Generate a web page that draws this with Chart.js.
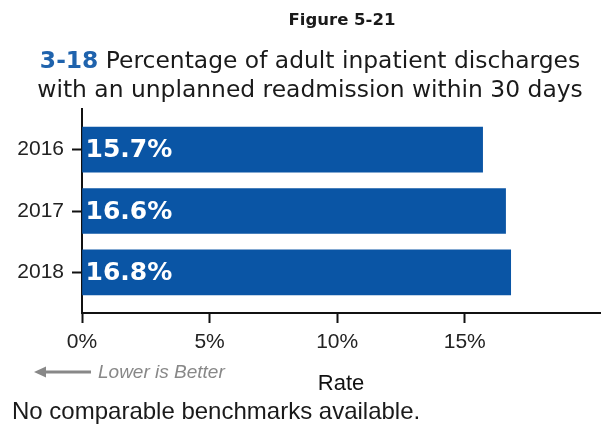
<!DOCTYPE html>
<html>
<head>
<meta charset="utf-8">
<script src="https://cdn.jsdelivr.net/npm/chart.js@4"></script>
<style>
  body { margin: 0; background: #fff; }
  #wrap { position: relative; width: 602px; height: 429px; overflow: hidden; }
  #wrap canvas { position: absolute; left: 0; top: 0; }
  .txt { position: absolute; white-space: nowrap; color: #1a1a1a; }
  #fig { left: 0; width: 684px; top: 10px; text-align: center; font: bold 16.5px "DejaVu Sans", sans-serif; }
  .ttl { left: 0; width: 620px; text-align: center; font: 23.4px "DejaVu Sans", sans-serif; }
  #t1 { top: 46px; }
  #t2 { top: 75px; }
  #t1 b { color: #1f63ad; }
  #lower { left: 98px; top: 361px; font: italic 19px "Liberation Sans", Arial, sans-serif; color: #888; }
  #note { left: 12px; top: 397px; font: 24px "Liberation Sans", Arial, sans-serif; }
  #arrow { position: absolute; left: 34px; top: 365px; }
</style>
</head>
<body>
<div id="wrap">
  <canvas id="myChart" width="602" height="429"></canvas>
  <div class="txt" id="fig">Figure 5-21</div>
  <div class="txt ttl" id="t1"><b>3-18</b> Percentage of adult inpatient discharges</div>
  <div class="txt ttl" id="t2">with an unplanned readmission within 30 days</div>
  <svg id="arrow" width="60" height="14">
    <line x1="8" y1="7" x2="57" y2="7" stroke="#888" stroke-width="3"/>
    <polygon points="0,7 12,1.5 12,12.5" fill="#888"/>
  </svg>
  <div class="txt" id="lower">Lower is Better</div>
  <div class="txt" id="note">No comparable benchmarks available.</div>
</div>
<script>
const years = [2016, 2017, 2018];
const rates = [15.7, 16.6, 16.8];
const xTicks = [0, 5, 10, 15];

const barLabels = {
  id: 'barLabels',
  afterDatasetsDraw(chart) {
    const ctx = chart.ctx;
    ctx.save();
    ctx.fillStyle = '#fff';
    ctx.font = 'bold 25px "DejaVu Sans", sans-serif';
    ctx.textBaseline = 'middle';
    chart.getDatasetMeta(0).data.forEach((el, i) => {
      ctx.fillText(rates[i].toFixed(1) + '%', el.base + 3, el.y + 1);
    });
    ctx.restore();
  }
};

new Chart(document.getElementById('myChart'), {
  type: 'bar',
  data: {
    labels: years,
    datasets: [{
      label: 'Rate',
      data: rates,
      backgroundColor: '#0a55a5',
      barThickness: 45
    }]
  },
  options: {
    indexAxis: 'y',
    responsive: false,
    animation: false,
    layout: { padding: { top: 109, right: 2, left: 0, bottom: 0 } },
    plugins: { legend: { display: false }, tooltip: { enabled: false } },
    scales: {
      x: {
        min: 0,
        max: 20.3,
        afterBuildTicks: (axis) => { axis.ticks = xTicks.map(v => ({ value: v })); },
        afterFit: (scale) => { scale.height = 116; },
        border: { color: '#111', width: 2 },
        grid: { drawOnChartArea: false, tickLength: 10, tickColor: '#111', tickWidth: 2 },
        ticks: {
          padding: 7,
          color: '#222',
          font: { family: '"Liberation Sans", Arial', size: 21 },
          callback: (v) => v + '%'
        },
        title: {
          display: true,
          text: 'Rate',
          color: '#111',
          font: { family: '"Liberation Sans", Arial', size: 22 },
          padding: { top: 0, bottom: 32 }
        }
      },
      y: {
        type: 'linear',
        reverse: true,
        offset: false,
        min: years[0] - 0.66,
        max: years[years.length - 1] + 0.66,
        afterBuildTicks: (axis) => { axis.ticks = years.map(v => ({ value: v })); },
        afterFit: (scale) => { scale.width = 82; },
        border: { color: '#111', width: 2 },
        grid: { offset: false, drawOnChartArea: false, tickLength: 10, tickColor: '#111', tickWidth: 2 },
        ticks: {
          padding: 8,
          color: '#222',
          font: { family: '"Liberation Sans", Arial', size: 21 },
          callback: (v) => String(v)
        }
      }
    }
  },
  plugins: [barLabels]
});
</script>
</body>
</html>
